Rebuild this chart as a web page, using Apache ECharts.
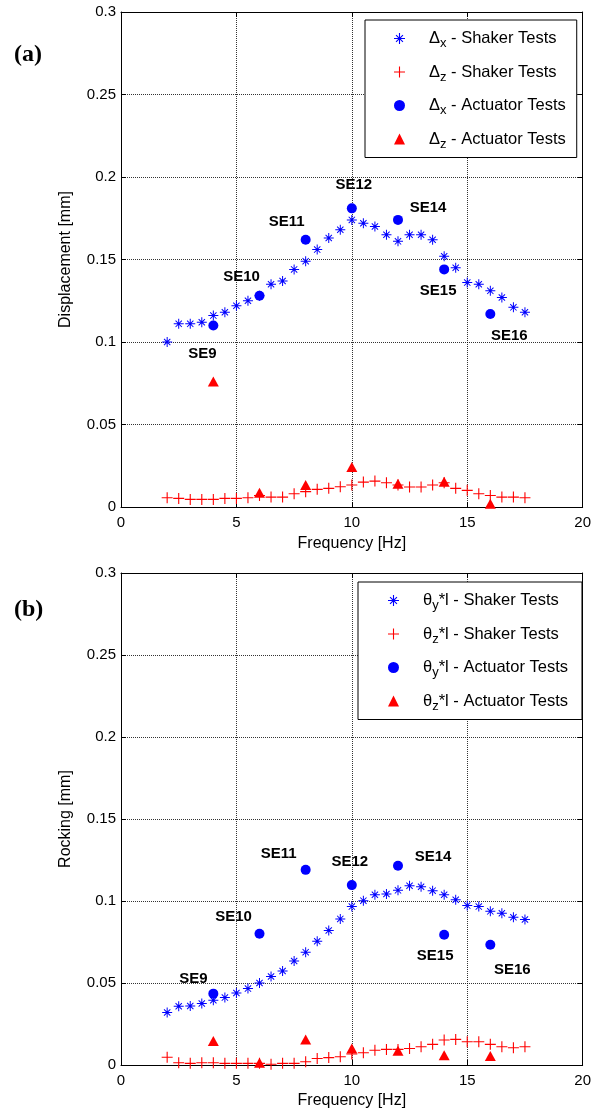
<!DOCTYPE html>
<html><head><meta charset="utf-8">
<script src="https://cdn.jsdelivr.net/npm/echarts@6/dist/echarts.min.js"></script>
<style>html,body{margin:0;padding:0;background:#fff}#c{width:594px;height:1111px}</style>
</head><body><div id="c"></div>
<script>
// ---------- data ----------
const freq = [2, 2.5, 3, 3.5, 4, 4.5, 5, 5.5, 6, 6.5, 7, 7.5, 8, 8.5, 9, 9.5,
              10, 10.5, 11, 11.5, 12, 12.5, 13, 13.5, 14, 14.5, 15, 15.5, 16, 16.5, 17, 17.5];
const dxShaker = [0.100, 0.111, 0.111, 0.112, 0.116, 0.118, 0.122, 0.125, 0.128, 0.135, 0.137, 0.144, 0.149, 0.156, 0.163, 0.168,
                  0.174, 0.172, 0.170, 0.165, 0.161, 0.165, 0.165, 0.162, 0.152, 0.145, 0.136, 0.135, 0.131, 0.127, 0.121, 0.118];
const dzShaker = [0.0056, 0.0052, 0.0046, 0.0046, 0.0046, 0.0052, 0.0052, 0.0056, 0.0070, 0.0060, 0.0060, 0.0080, 0.0093, 0.0107, 0.0113, 0.0123,
                  0.0133, 0.0151, 0.0157, 0.0147, 0.0133, 0.0121, 0.0121, 0.0133, 0.0147, 0.0113, 0.0101, 0.0080, 0.0070, 0.0060, 0.0060, 0.0056];
const actFreq = [4, 6, 8, 10, 12, 14, 16];
const actNames = ['SE9', 'SE10', 'SE11', 'SE12', 'SE14', 'SE15', 'SE16'];
const dxAct = [0.110, 0.128, 0.162, 0.181, 0.174, 0.144, 0.117];
const dzAct = [0.076, 0.0087, 0.0133, 0.0242, 0.0141, 0.0153, 0.0020];

const thyShaker = [0.0320, 0.0358, 0.0360, 0.0375, 0.0395, 0.0411, 0.0439, 0.0466, 0.0500, 0.0540, 0.0573, 0.0634, 0.0688, 0.0755, 0.0820, 0.0891,
                   0.0966, 0.1002, 0.1038, 0.1043, 0.1065, 0.1093, 0.1087, 0.1063, 0.1038, 0.1008, 0.0972, 0.0966, 0.0937, 0.0925, 0.0901, 0.0887];
const thzShaker = [0.0047, 0.0014, 0.0010, 0.0014, 0.0014, 0.0010, 0.0010, 0.0010, 0.0010, 0.0005, 0.0010, 0.0010, 0.0020, 0.0040, 0.0045, 0.0050,
                   0.0067, 0.0075, 0.0090, 0.0095, 0.0095, 0.0101, 0.0111, 0.0126, 0.0152, 0.0156, 0.0142, 0.0142, 0.0126, 0.0111, 0.0105, 0.0111];
const thyAct = [0.0435, 0.0800, 0.1190, 0.1097, 0.1215, 0.0794, 0.0733];
const thzAct = [0.0146, 0.0014, 0.0156, 0.0101, 0.0087, 0.0060, 0.0055];

const xTicks = [0, 5, 10, 15, 20];
const yTicks = [0, 0.05, 0.1, 0.15, 0.2, 0.25, 0.3];

// legend texts: [symbol, subscript, rest]
const legendTop = [['Δ', 'x', ' - Shaker Tests'], ['Δ', 'z', ' - Shaker Tests'], ['Δ', 'x', ' - Actuator Tests'], ['Δ', 'z', ' - Actuator Tests']];
const legendBot = [['θ', 'y', '*l - Shaker Tests'], ['θ', 'z', '*l - Shaker Tests'], ['θ', 'y', '*l - Actuator Tests'], ['θ', 'z', '*l - Actuator Tests']];

// ---------- styles ----------
const labelOffTop = [[-11, 28], [-18, -19], [-19, -18], [2, -23], [30, -12], [-6, 21], [19, 22]];
const labelOffBot = [[-20, -15], [-26, -17], [-27, -16], [-2, -23], [35, -9], [-9, 21], [22, 25]];
const FONT = 'Liberation Sans, Arial, sans-serif';
const SERIF = 'Liberation Serif, Times New Roman, serif';
const BLUE = '#0000ff', RED = '#ff0000';
const STAR = 'path://M0,4.5L10,4.5L10,5.5L0,5.5Z M4.5,0L5.5,0L5.5,10L4.5,10Z M1.5,2.2L2.2,1.5L8.5,7.8L7.8,8.5Z M7.8,1.5L8.5,2.2L2.2,8.5L1.5,7.8Z';
const PLUS = 'path://M0,4.5L10,4.5L10,5.5L0,5.5Z M4.5,0L5.5,0L5.5,10L4.5,10Z';
const symbols = [STAR, PLUS, 'circle', 'triangle'];
const sizes = [10, 11, 10, [11, 10]];
const colors = [BLUE, RED, BLUE, RED];

const keyName = (p) => p.join('');
const allLegend = legendTop.concat(legendBot);
function legendFmt(name) {
  const p = allLegend.find(q => keyName(q) === name);
  return '{a|' + p[0] + '}{s|' + p[1] + '}{a|' + p[2] + '}';
}

const grids = [
  {left: 121, top: 12, width: 464, height: 495},
  {left: 121, top: 573, width: 464, height: 492}
];

const gridLine = {show: true, lineStyle: {color: '#000', type: 'dotted', width: 1, opacity: 0.8}};
const tick = {show: true, inside: true, length: 5, lineStyle: {color: '#000'}};
const axLine = {show: true, onZero: false, lineStyle: {color: '#000', width: 1}};

function mainX(gi, nameGap) {
  return {type: 'value', gridIndex: gi, min: xTicks[0], max: xTicks[xTicks.length - 1], interval: 5,
    name: 'Frequency [Hz]', nameLocation: 'middle', nameGap: nameGap,
    nameTextStyle: {fontFamily: FONT, fontSize: 16, color: '#000'},
    axisLine: axLine, axisTick: tick,
    axisLabel: {fontFamily: FONT, fontSize: 15, color: '#000', margin: 8},
    splitLine: gridLine};
}
function secX(gi) {
  return {type: 'value', gridIndex: gi, position: 'top', min: 0, max: 20, interval: 5,
    axisLine: axLine, axisTick: tick, axisLabel: {show: false}, splitLine: {show: false}};
}
function mainY(gi, name) {
  return {type: 'value', gridIndex: gi, min: yTicks[0], max: yTicks[yTicks.length - 1], interval: 0.05,
    name: name, nameLocation: 'middle', nameGap: 47,
    nameTextStyle: {fontFamily: FONT, fontSize: 16, color: '#000'},
    axisLine: axLine, axisTick: tick,
    axisLabel: {fontFamily: FONT, fontSize: 15, color: '#000', margin: 5},
    splitLine: gridLine};
}
function secY(gi) {
  return {type: 'value', gridIndex: gi, position: 'right', min: 0, max: 0.3, interval: 0.05,
    axisLine: axLine, axisTick: tick, axisLabel: {show: false}, splitLine: {show: false}};
}

function buildSeries(gi, legendParts, shakA, shakB, actA, actB, offs) {
  const axIdx = gi * 2;
  const sets = [
    freq.map((f, i) => [f, shakA[i]]),
    freq.map((f, i) => [f, shakB[i]]),
    actFreq.map((f, i) => ({value: [f, actA[i]], name: actNames[i],
      label: {show: true, position: 'inside', offset: offs[i], formatter: '{b}',
        fontFamily: FONT, fontWeight: 'bold', fontSize: 15, color: '#000'}})),
    actFreq.map((f, i) => [f, actB[i]])
  ];
  const order = [0, 1, 3, 2];
  return order.map(k => ({
    type: 'scatter', name: keyName(legendParts[k]), xAxisIndex: axIdx, yAxisIndex: axIdx,
    data: sets[k], symbol: symbols[k], symbolSize: sizes[k],
    itemStyle: {color: colors[k], opacity: 1}, z: k >= 2 ? 3 : 2,
    emphasis: {disabled: true}, silent: true, animation: false
  }));
}

function buildLegend(parts, left, top, padding) {
  return {
    orient: 'vertical', left: left, top: top, padding: padding,
    itemWidth: 11, itemHeight: 11, itemGap: 10.5,
    backgroundColor: '#fff', borderColor: '#000', borderWidth: 1,
    selectedMode: false,
    data: parts.map((p, k) => ({name: keyName(p), icon: symbols[k], itemStyle: {color: colors[k]}})),
    formatter: legendFmt,
    textStyle: {fontFamily: FONT, color: '#000', padding: [0, 0, 0, 19],
      rich: {a: {fontFamily: FONT, fontSize: 16.5, color: '#000', lineHeight: 20},
             s: {fontFamily: FONT, fontSize: 13, color: '#000', lineHeight: 20, padding: [10, 0, 0, 0]}}}
  };
}

const chart = echarts.init(document.getElementById('c'), null, {renderer: 'canvas'});
chart.setOption({
  backgroundColor: '#fff',
  animation: false,
  title: [
    {text: '(a)', left: 9, top: 38, textStyle: {fontFamily: SERIF, fontWeight: 'bold', fontSize: 24, color: '#000'}},
    {text: '(b)', left: 9, top: 593, textStyle: {fontFamily: SERIF, fontWeight: 'bold', fontSize: 24, color: '#000'}}
  ],
  grid: grids.map(g => Object.assign({containLabel: false, show: false}, g)),
  xAxis: [mainX(0, 29), secX(0), mainX(1, 28), secX(1)],
  yAxis: [mainY(0, 'Displacement [mm]'), secY(0), mainY(1, 'Rocking [mm]'), secY(1)],
  legend: [
    buildLegend(legendTop, 365, 20, [7, 11, 7, 29]),
    buildLegend(legendBot, 358, 582, [7, 14, 7, 30])
  ],
  series: buildSeries(0, legendTop, dxShaker, dzShaker, dxAct, dzAct, labelOffTop)
    .concat(buildSeries(1, legendBot, thyShaker, thzShaker, thyAct, thzAct, labelOffBot))
});
</script></body></html>
